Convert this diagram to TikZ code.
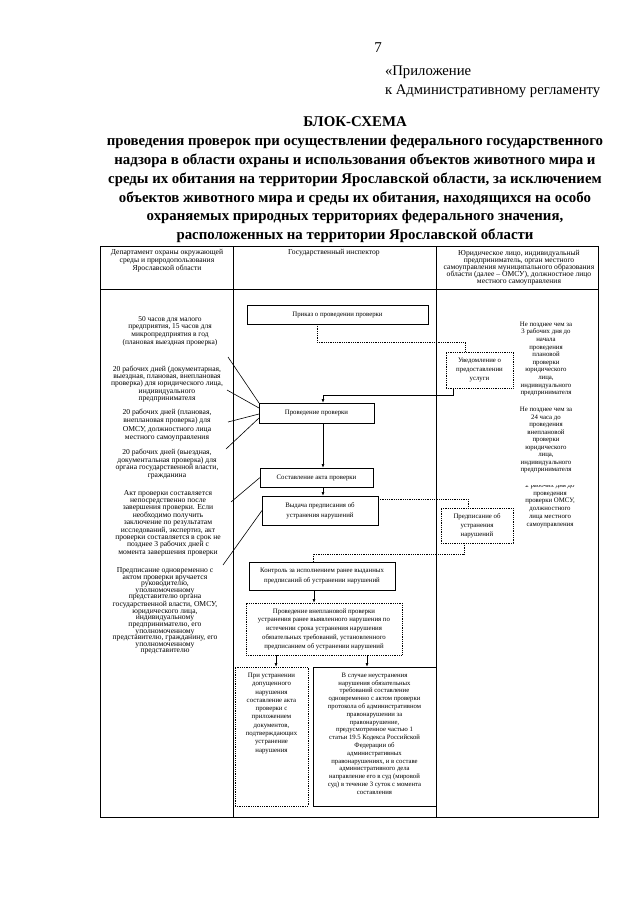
\documentclass[tikz,border=0pt]{standalone}
\usepackage{fontspec}
\setmainfont{Liberation Serif}
\usetikzlibrary{arrows.meta,calc}
\begin{document}
\begin{tikzpicture}[x=1pt,y=-1pt,
  every node/.style={inner sep=0pt, outer sep=0pt},
  sm/.style={font=\fontsize{6.8}{7.4}\selectfont, align=center},
  lt/.style={align=center},
  box/.style={draw, line width=0.8pt, sm},
  dbox/.style={draw, densely dotted, line width=0.8pt, sm},
  tbl/.style={line width=0.8pt},
  arr/.style={line width=0.8pt, -{Latex[length=4pt,width=3pt]}},
  dline/.style={densely dotted, line width=0.8pt},
  diag/.style={line width=0.6pt},
]
\useasboundingbox (0,0) rectangle (640,905);
\fill[white] (0,0) rectangle (640,905);

% page header
\node[anchor=base, font=\fontsize{15}{18}\selectfont] (pnum) at (378,52) {7};
\node[anchor=base west, font=\fontsize{14.7}{18}\selectfont] (pril1) at (385,75) {«Приложение};
\node[anchor=base west, font=\fontsize{14.7}{18}\selectfont] (pril2) at (385,94) {к Административному регламенту};
\node[align=center, font=\fontsize{14.85}{18.8}\selectfont\bfseries] (title) at (355,180)
 {БЛОК-СХЕМА\\
  проведения проверок при осуществлении федерального государственного\\
  надзора в области охраны и использования объектов животного мира и\\
  среды их обитания на территории Ярославской области, за исключением\\
  объектов животного мира и среды их обитания, находящихся на особо\\
  охраняемых природных территориях федерального значения,\\
  расположенных на территории Ярославской области};

% table frame
\draw[tbl] (100,246) rectangle (598,817);
\draw[tbl] (100,289) -- (598,289);
\draw[tbl] (233,246) -- (233,817);
\draw[tbl] (436,246) -- (436,817);

% header texts
\node[lt, font=\fontsize{7.6}{8}\selectfont] (h1) at (167,261) {Департамент охраны окружающей\\среды и природопользования\\Ярославской области};
\node[lt, font=\fontsize{7.6}{8}\selectfont] (h2) at (334,253) {Государственный инспектор};
\node[lt, font=\fontsize{7.6}{7.1}\selectfont] (h3) at (519,268) {Юридическое лицо, индивидуальный\\предприниматель, орган местного\\самоуправления муниципального образования\\области (далее – ОМСУ), должностное лицо\\местного самоуправления};

% left column texts
\node[lt, font=\fontsize{7.4}{7.7}\selectfont] (tA) at (170,331) {50 часов для малого\\предприятия, 15 часов для\\микропредприятия в год\\(плановая выездная проверка)};
\node[lt, font=\fontsize{7.6}{7.4}\selectfont] (tB) at (167,384) {20 рабочих дней (документарная,\\выездная, плановая, внеплановая\\проверка) для юридического лица,\\индивидуального\\предпринимателя};
\node[lt, font=\fontsize{7.6}{8.5}\selectfont] (tC) at (167,425) {20 рабочих дней (плановая,\\внеплановая проверка) для\\ОМСУ, должностного лица\\местного самоуправления};
\node[lt, font=\fontsize{7.6}{7.4}\selectfont] (tD) at (167,464) {20 рабочих дней (выездная,\\документальная проверка) для\\органа государственной власти,\\гражданина};
\node[lt, font=\fontsize{7.6}{7.4}\selectfont] (tE) at (168,523) {Акт проверки составляется\\непосредственно после\\завершения проверки. Если\\необходимо получить\\заключение по результатам\\исследований, экспертиз, акт\\проверки составляется в срок не\\позднее 3 рабочих дней с\\момента завершения проверки};
\node[lt, font=\fontsize{7.6}{6.6}\selectfont] (tF) at (165,611) {Предписание одновременно с\\актом проверки вручается\\руководителю,\\уполномоченному\\представителю органа\\государственной власти, ОМСУ,\\юридического лица,\\индивидуальному\\предпринимателю, его\\уполномоченному\\представителю, гражданину, его\\уполномоченному\\представителю};

% right column texts
\node[sm, font=\fontsize{6.8}{7.6}\selectfont] (r1) at (546,359) {Не позднее чем за\\3 рабочих дня до\\начала\\проведения\\плановой\\проверки\\юридического\\лица,\\индивидуального\\предпринимателя};
\node[sm, font=\fontsize{6.8}{7.5}\selectfont] (r2) at (546,440) {Не позднее чем за\\24 часа до\\проведения\\внеплановой\\проверки\\юридического\\лица,\\индивидуального\\предпринимателя};
\begin{scope}
\clip (437,485) rectangle (597,545);
\node[sm, font=\fontsize{6.8}{7.75}\selectfont] (r3) at (550,505) {2 рабочих дня до\\проведения\\проверки ОМСУ,\\должностного\\лица местного\\самоуправления};
\end{scope}

% boxes
\node[box, minimum width=181pt, minimum height=19pt] (prikaz) at (337.5,314.5) {Приказ о проведении проверки};
\node[dbox, minimum width=67pt, minimum height=36pt, font=\fontsize{6.8}{9}\selectfont] (uved) at (479.5,370) {Уведомление о\\предоставлении\\услуги};
\node[box, minimum width=115pt, minimum height=20pt] (provedenie) at (316.5,413) {Проведение проверки};
\node[box, minimum width=113pt, minimum height=19pt] (sostav) at (316.5,477.5) {Составление акта проверки};
\node[box, minimum width=116pt, minimum height=29pt, font=\fontsize{6.8}{10}\selectfont] (vydacha) at (320,510.5) {Выдача предписания об\\устранения нарушений};
\node[dbox, minimum width=72pt, minimum height=35pt, font=\fontsize{6.8}{9}\selectfont] (predpis) at (477,525.5) {Предписание об\\устранения\\нарушений};
\node[box, minimum width=146pt, minimum height=28pt, font=\fontsize{6.8}{10}\selectfont] (kontrol) at (322,576) {Контроль за исполнением ранее выданных\\предписаний об устранении нарушений};
\node[dbox, minimum width=156pt, minimum height=52pt, font=\fontsize{6.8}{8.75}\selectfont] (vneplan) at (324,629) {Проведение внеплановой проверки\\устранения ранее выявленного нарушения по\\истечении срока устранения нарушения\\обязательных требований, установленного\\предписанием об устранении нарушений};
\node[dbox, minimum width=73pt, minimum height=139pt] (leftbox) at (271.5,736.5)
 {\parbox[t][127pt][t]{70pt}{\centering\fontsize{6.8}{8.3}\selectfont При устранении\\допущенного\\нарушения\\составление акта\\проверки с\\приложением\\документов,\\подтверждающих\\устранение\\нарушения}};
\node[box, minimum width=123pt, minimum height=139pt] (rightbox) at (374.5,736.5)
 {\parbox[t][127pt][t]{120pt}{\centering\fontsize{6.7}{7.8}\selectfont В случае неустранения\\нарушения обязательных\\требований составление\\одновременно с актом проверки\\протокола об административном\\правонарушении за\\правонарушение,\\предусмотренное частью 1\\статьи 19.5 Кодекса Российской\\Федерации об\\административных\\правонарушениях, и в составе\\административного дела\\направление его в суд (мировой\\суд) в течение 3 суток с момента\\составления}};

% connectors
\draw[dline] ([xshift=-20.5pt]prikaz.south) -- ++(0,18) -| ([xshift=-14.5pt]uved.north);
\draw[arr] ([xshift=-26.5pt]uved.south) -- ++(0,7) -| ([xshift=6.5pt]provedenie.north);
\draw[arr] ([xshift=6.5pt]provedenie.south) -- ([xshift=6.5pt]sostav.north);
\draw[arr] ([xshift=6.5pt]sostav.south) -- ([xshift=3pt]vydacha.north);
\draw[dline] ([yshift=11.5pt]vydacha.east) -| ([xshift=-9pt]predpis.north);
\draw[dline] ([xshift=-13pt]predpis.south) -- ++(0,11) -| ([xshift=-9pt]kontrol.north);
\draw[arr] ([xshift=-8pt]kontrol.south) -- ([xshift=-10pt]vneplan.north);
\draw[arr] ([xshift=-48pt]vneplan.south) -- ([xshift=4.5pt]leftbox.north);
\draw[arr] ([xshift=43pt]vneplan.south) -- ([xshift=-7.5pt]rightbox.north);

% diagonal links from left column
\coordinate (d1) at (228,357);
\coordinate (d2) at (227,390);
\coordinate (d3) at (228,422);
\coordinate (d4) at (226,449);
\coordinate (d5) at (231,502);
\coordinate (d6) at (223,565);
\draw[diag] (d1) -- (provedenie.north west);
\draw[diag] (d2) -- ($(provedenie.north west)+(0,5)$);
\draw[diag] (d3) -- ($(provedenie.west)+(0,1)$);
\draw[diag] (d4) -- ($(provedenie.west)+(0,5)$);
\draw[diag] (d5) -- (sostav.west);
\draw[diag] (d6) -- (vydacha.west);
\end{tikzpicture}
\end{document}
